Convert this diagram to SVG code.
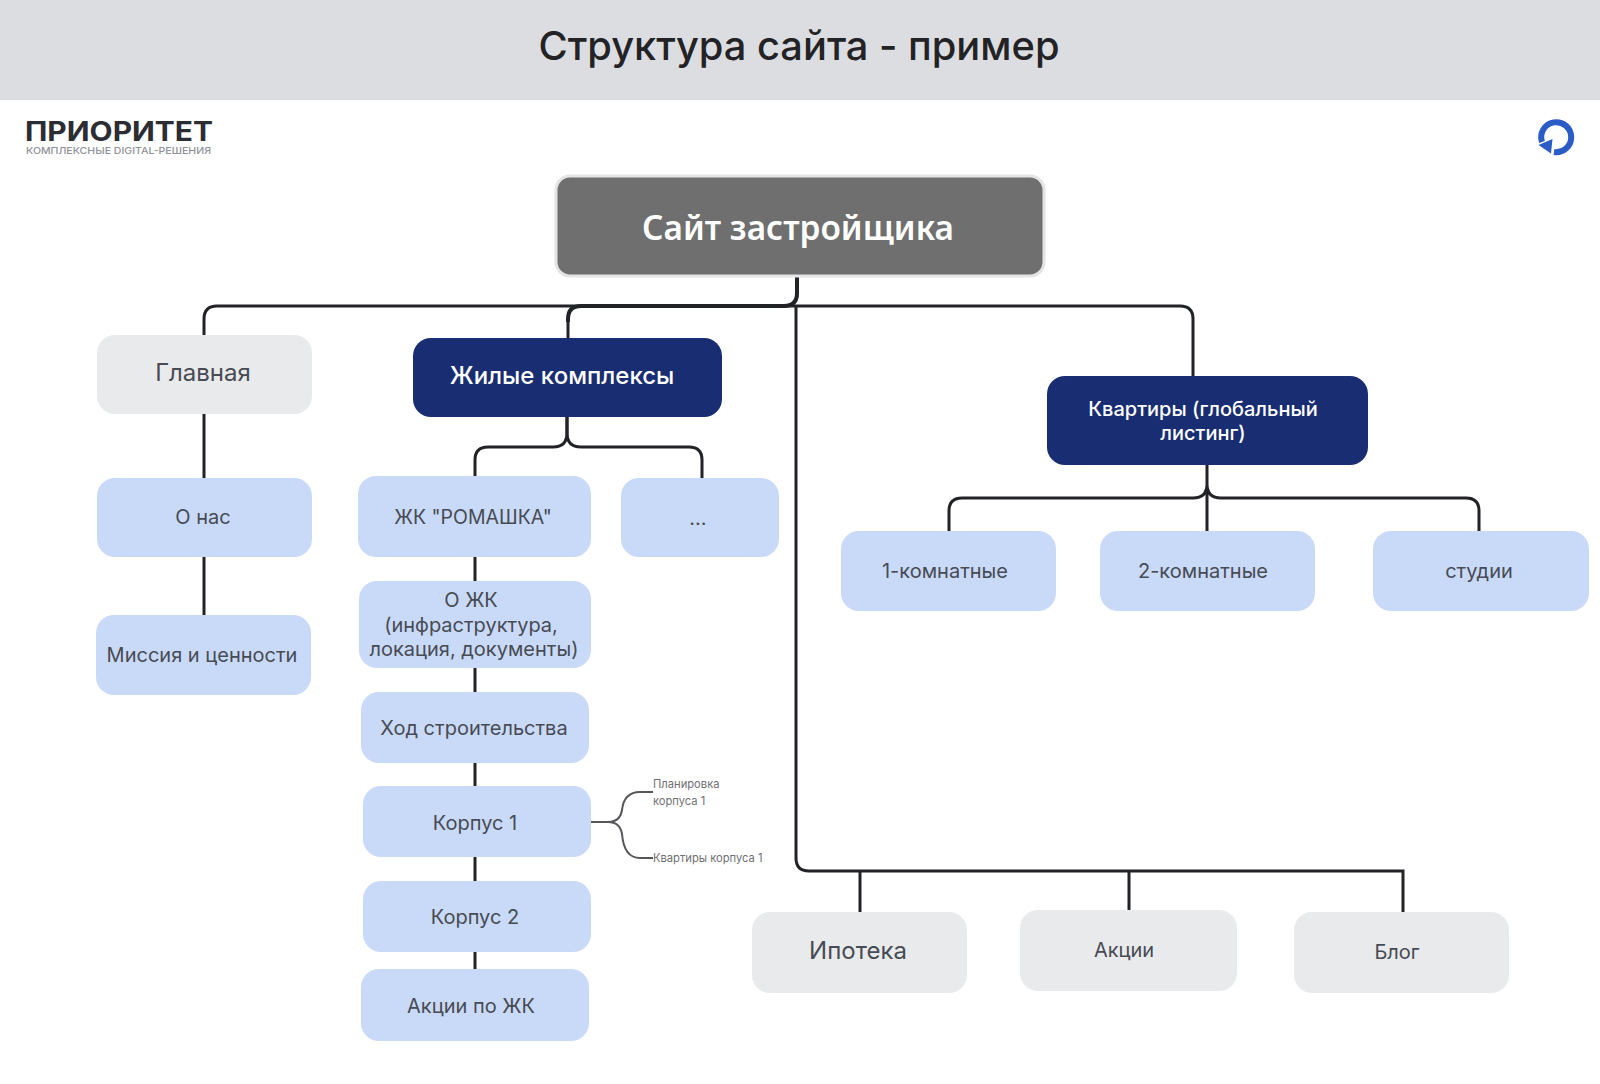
<svg xmlns="http://www.w3.org/2000/svg" width="1600" height="1084" viewBox="0 0 1600 1084">
<style>
text{font-family:Inter,"Noto Sans","Liberation Sans",sans-serif;text-anchor:middle;fill:#474b53;font-size:20px}
.l{fill:#c9daf9}.g{fill:#e9eaec}.d{fill:#182d72}
.w{fill:#fff;font-weight:500}
.c{fill:none;stroke:#222326;stroke-width:3}
.t{fill:none;stroke:#55565a;stroke-width:2}
.s{font-size:11.200px;text-anchor:start;fill:#707074}
.big{font-size:24px}
</style>
<rect width="1600" height="1084" fill="#fff"/>
<g id="header"><rect width="1600" height="100" fill="#dcdde0"/>
<text x="799" y="60" style="font-size:39.800px;font-weight:500;fill:#232326">Структура сайта - пример</text></g>
<g id="logo">
<text x="25" y="141" textLength="188" lengthAdjust="spacingAndGlyphs" style="font-weight:700;font-size:27px;text-anchor:start;fill:#2b2d33">ПРИОРИТЕТ</text>
<text x="26" y="154" textLength="185" lengthAdjust="spacingAndGlyphs" style="font-size:9.500px;font-weight:500;text-anchor:start;fill:#8f9297">КОМПЛЕКСНЫЕ DIGITAL-РЕШЕНИЯ</text>
</g>
<g id="icon">
<path d="M1542 142A15 15 0 1 1 1554 152" fill="none" stroke="#2a5bc6" stroke-width="6"/>
<path d="M1538.500 145L1552.500 139L1551 153.500Z" fill="#2a5bc6"/>
</g>
<g id="connectors">
<path class="c" d="M797 277V293Q797 306 784 306H217Q204 306 204 319V335"/>
<path class="c" style="stroke-width:4" d="M797 277V293Q797 306 784 306H581Q568 306 568 319V322"/>
<path class="c" d="M568 320V338"/>
<path class="c" d="M780 306H1180Q1193 306 1193 319V376"/>
<path class="c" d="M796 306V858Q796 871 809 871H1403V912"/>
<path class="c" d="M860 871V912M1129 871V910"/>
<path class="c" d="M204 414V478M204 557V615"/>
<path class="c" d="M567 417V433Q567 447 553 447H488Q475 447 475 460V476"/>
<path class="c" d="M567 417V433Q567 447 581 447H689Q702 447 702 460V478"/>
<path class="c" d="M475 557V581M475 668V692M475 763V786M475 857V881M475 952V969"/>
<path class="c" d="M1207 465V531M1207 484Q1207 498 1193 498H962Q949 498 949 511V531M1207 484Q1207 498 1221 498H1466Q1479 498 1479 511V531"/>
<path class="t" d="M591 822H608Q620 822 622 810Q624 792 640 792H653"/>
<path class="t" d="M591 822H608Q620 822 622 834Q624 858 640 858H653"/>
</g>
<g id="n-root"><rect x="556" y="176" width="488" height="100" rx="14" fill="#6f6f6f" stroke="#e4e4e6" stroke-width="3"/><text x="798" y="240" style="font-family:'Noto Sans',sans-serif;font-size:33.400px;font-weight:600;fill:#fff">Сайт застройщика</text></g>
<g id="n-main"><rect class="g" x="97" y="335" width="215" height="79" rx="18"/><text class="big" x="203" y="381">Главная</text></g>
<g id="n-zhk"><rect class="d" x="413" y="338" width="309" height="79" rx="18"/><text class="w big" x="562" y="384">Жилые комплексы</text></g>
<g id="n-flats"><rect class="d" x="1047" y="376" width="321" height="89" rx="18"/><text class="w" x="1203" y="416">Квартиры (глобальный</text><text class="w" x="1203" y="440">листинг)</text></g>
<g id="n-about"><rect class="l" x="97" y="478" width="215" height="79" rx="18"/><text x="203" y="524">О нас</text></g>
<g id="n-mission"><rect class="l" x="96" y="615" width="215" height="80" rx="18"/><text x="202" y="662">Миссия и ценности</text></g>
<g id="n-romashka"><rect class="l" x="358" y="476" width="233" height="81" rx="18"/><text x="473" y="524" style="font-size:19.500px">ЖК "РОМАШКА"</text></g>
<g id="n-dots"><rect class="l" x="621" y="478" width="158" height="79" rx="18"/><text x="698" y="525">...</text></g>
<g id="n-ozhk"><rect class="l" x="359" y="581" width="232" height="87" rx="18"/><text x="471" y="607">О ЖК</text><text x="471" y="632">(инфраструктура,</text><text x="474" y="656">локация, документы)</text></g>
<g id="n-progress"><rect class="l" x="361" y="692" width="228" height="71" rx="18"/><text x="474" y="735">Ход строительства</text></g>
<g id="n-k1"><rect class="l" x="363" y="786" width="228" height="71" rx="18"/><text x="475" y="830">Корпус 1</text></g>
<g id="n-k2"><rect class="l" x="363" y="881" width="228" height="71" rx="18"/><text x="475" y="924">Корпус 2</text></g>
<g id="n-promo"><rect class="l" x="361" y="969" width="228" height="72" rx="18"/><text x="471" y="1013">Акции по ЖК</text></g>
<g id="n-plan"><text class="s" x="653" y="788">Планировка</text><text class="s" x="653" y="805">корпуса 1</text></g>
<g id="n-kv"><text class="s" x="653" y="862">Квартиры корпуса 1</text></g>
<g id="n-1k"><rect class="l" x="841" y="531" width="215" height="80" rx="18"/><text x="945" y="578">1-комнатные</text></g>
<g id="n-2k"><rect class="l" x="1100" y="531" width="215" height="80" rx="18"/><text x="1203" y="578">2-комнатные</text></g>
<g id="n-st"><rect class="l" x="1373" y="531" width="216" height="80" rx="18"/><text x="1479" y="578">студии</text></g>
<g id="n-ipo"><rect class="g" x="752" y="912" width="215" height="81" rx="18"/><text class="big" x="858" y="959">Ипотека</text></g>
<g id="n-akc"><rect class="g" x="1020" y="910" width="217" height="81" rx="18"/><text x="1124" y="957">Акции</text></g>
<g id="n-blog"><rect class="g" x="1294" y="912" width="215" height="81" rx="18"/><text x="1397" y="959">Блог</text></g>
</svg>
